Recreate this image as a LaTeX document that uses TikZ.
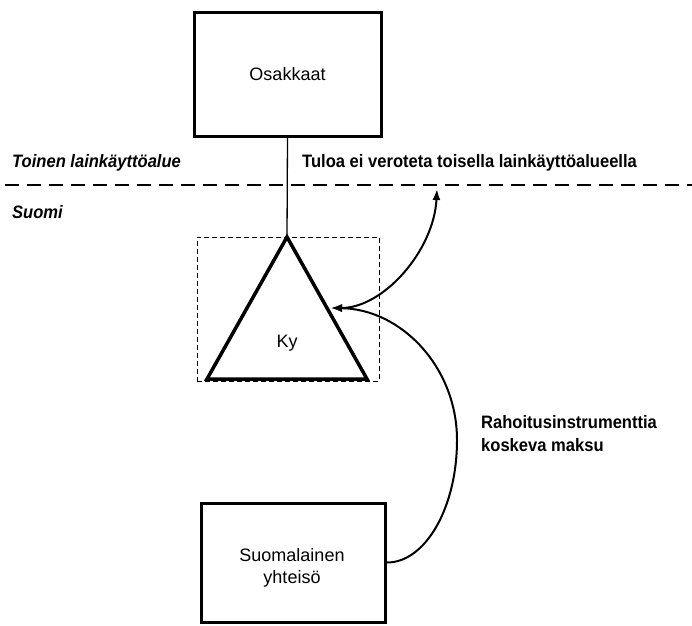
\documentclass[tikz,border=0pt]{standalone}
\usepackage{fontspec}
\setmainfont{Liberation Sans}
\usetikzlibrary{arrows.meta}
\newcommand{\tightbox}[1]{\scalebox{0.92}[1]{#1}}
\begin{document}
\begin{tikzpicture}[x=1pt,y=-1pt,
  entity/.style={draw, line width=3pt, inner sep=0pt},
  bodytext/.style={font=\fontsize{18}{22}\selectfont, align=center, inner sep=0pt},
  zone/.style={font=\fontsize{18}{22}\selectfont\bfseries\itshape, inner sep=0pt, anchor=west},
  note/.style={font=\fontsize{18}{23}\selectfont\bfseries, inner sep=0pt, anchor=west, align=left},
  border/.style={line width=1.5pt, dash pattern=on 14pt off 8pt},
  frame/.style={draw, line width=0.8pt, dash pattern=on 5pt off 3pt, inner sep=0pt},
  triangle/.style={line width=3.5pt, line join=miter},
  link/.style={line width=1.3pt},
  flow/.style={line width=2pt}
]
\useasboundingbox (0,0) rectangle (692,625);

% jurisdiction border
\coordinate (borderL) at (5,185);
\coordinate (borderR) at (692,185);
\draw[border] (borderL) -- (borderR);
\node[zone] (other) at (12,163) {\tightbox{Toinen lainkäyttöalue}};
\node[zone] (fin) at (12,212) {\tightbox{Suomi}};
\node[note] (untaxed) at (302,163) {\tightbox{Tuloa ei veroteta toisella lainkäyttöalueella}};

% shareholders
\node[entity, minimum width=187pt, minimum height=124pt] (owners) at (287.5,74) {};
\node[bodytext] (ownerstext) at (287.5,74) {Osakkaat};

% limited partnership
\node[frame, minimum width=182pt, minimum height=144pt] (kyframe) at (288,309) {};
\coordinate (apex) at (287,237);
\coordinate (baseR) at (367,379);
\coordinate (baseL) at (207,379);
\draw[triangle] (apex) -- (baseR) -- (baseL) -- cycle;
\node[bodytext] (ky) at (287,343) {Ky};
\coordinate (hit) at (331,308);

\draw[link] (owners.south) -- (apex);

% Finnish company
\node[entity, minimum width=184pt, minimum height=119pt] (company) at (293,562.5) {};
\node[bodytext] (companytext) at (292,568) {Suomalainen\\yhteisö};

% payment on the financial instrument
\node[note] (payment) at (481,434) {\tightbox{Rahoitusinstrumenttia}\\\tightbox{koskeva maksu}};

% arrows
\coordinate (up) at (437,189);
\draw[flow, {Latex[length=11pt,width=8pt]}-{Latex[length=11pt,width=8pt]}]
  (up) .. controls (434,250) and (384,308) .. (hit);
\coordinate (bend) at (457,440);
\draw[flow, -{Latex[length=11pt,width=8pt]}]
  (company.east) .. controls (425,563) and (457,508) .. (bend)
  .. controls (457,368) and (402,309) .. (hit);
\end{tikzpicture}
\end{document}
